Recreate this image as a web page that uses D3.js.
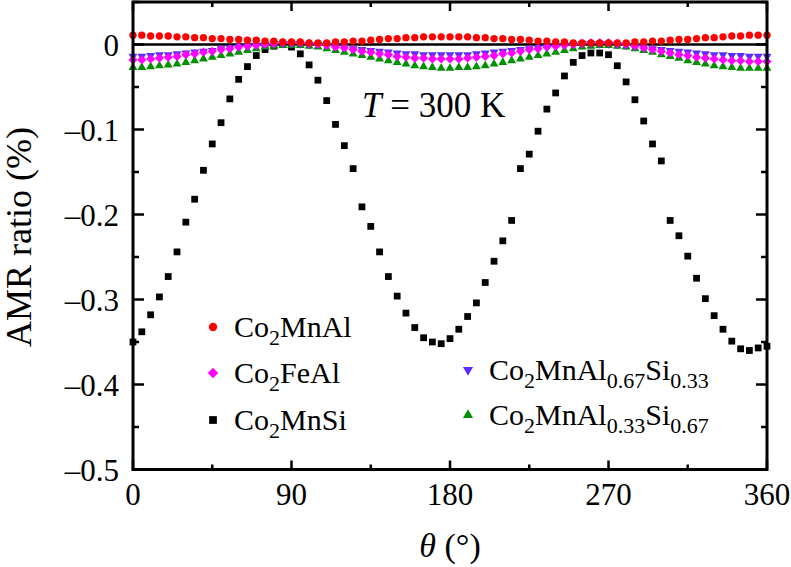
<!DOCTYPE html>
<html>
<head>
<meta charset="utf-8">
<script src="https://cdn.jsdelivr.net/npm/d3@7"></script>
<style>
  body { margin: 0; background: #fff; }
  svg, svg text { font-family: "Liberation Serif", "Times New Roman", Times, serif; }
</style>
</head>
<body>
<svg id="chart" width="791" height="567"></svg>
<script>
// measured every 5 degrees
const angles = d3.range(0, 361, 5)

const co2MnAl = [0.011, 0.011, 0.010, 0.010, 0.010, 0.009, 0.009, 0.008, 0.008, 0.007, 0.007, 0.006, 0.006, 0.005, 0.005, 0.004, 0.004, 0.003, 0.003,
  0.003, 0.002, 0.002, 0.002, 0.003, 0.003, 0.004, 0.004, 0.005, 0.006, 0.007, 0.007, 0.008, 0.008, 0.009, 0.009, 0.009, 0.009,
  0.009, 0.009, 0.008, 0.008, 0.007, 0.007, 0.006, 0.006, 0.005, 0.004, 0.004, 0.003, 0.003, 0.002, 0.002, 0.002, 0.002, 0.002,
  0.002, 0.002, 0.003, 0.003, 0.004, 0.004, 0.005, 0.006, 0.006, 0.007, 0.008, 0.008, 0.009, 0.010, 0.010, 0.011, 0.011, 0.011]

const co2FeAl = [-0.018, -0.018, -0.017, -0.016, -0.015, -0.014, -0.012, -0.011, -0.009, -0.008, -0.006, -0.005, -0.003, -0.002, -0.001, 0.000, 0.001, 0.002, 0.002,
  0.002, 0.001, 0.000, -0.001, -0.003, -0.004, -0.006, -0.008, -0.009, -0.011, -0.012, -0.014, -0.015, -0.016, -0.016, -0.017, -0.017, -0.017,
  -0.017, -0.016, -0.015, -0.014, -0.013, -0.011, -0.010, -0.008, -0.006, -0.005, -0.003, -0.002, -0.001, 0.000, 0.001, 0.002, 0.002, 0.002,
  0.001, 0.000, -0.002, -0.004, -0.006, -0.008, -0.010, -0.012, -0.013, -0.015, -0.016, -0.017, -0.018, -0.019, -0.019, -0.020, -0.020, -0.020]

const co2MnSi = [-0.350, -0.338, -0.318, -0.297, -0.273, -0.244, -0.209, -0.182, -0.148, -0.117, -0.092, -0.064, -0.041, -0.026, -0.013, -0.006, -0.002, 0.000, -0.003,
  -0.011, -0.024, -0.042, -0.066, -0.094, -0.119, -0.146, -0.191, -0.214, -0.244, -0.273, -0.296, -0.316, -0.333, -0.345, -0.350, -0.352, -0.346,
  -0.335, -0.320, -0.304, -0.280, -0.255, -0.231, -0.207, -0.146, -0.129, -0.102, -0.076, -0.057, -0.037, -0.021, -0.013, -0.010, -0.010, -0.012,
  -0.025, -0.044, -0.065, -0.090, -0.117, -0.137, -0.207, -0.225, -0.249, -0.275, -0.299, -0.319, -0.335, -0.349, -0.358, -0.360, -0.357, -0.355]

const co2MnAl67Si33 = [-0.014, -0.014, -0.013, -0.012, -0.012, -0.011, -0.010, -0.009, -0.008, -0.007, -0.005, -0.004, -0.003, -0.002, -0.001, 0.000, 0.001, 0.001, 0.001,
  0.001, 0.000, 0.000, -0.001, -0.002, -0.003, -0.005, -0.006, -0.007, -0.008, -0.009, -0.010, -0.011, -0.011, -0.012, -0.012, -0.012, -0.012,
  -0.012, -0.012, -0.011, -0.010, -0.009, -0.008, -0.007, -0.006, -0.005, -0.004, -0.003, -0.002, -0.001, 0.000, 0.001, 0.001, 0.001, 0.001,
  0.000, -0.001, -0.002, -0.003, -0.005, -0.006, -0.007, -0.008, -0.009, -0.010, -0.011, -0.012, -0.012, -0.013, -0.013, -0.014, -0.014, -0.014]

const co2MnAl33Si67 = [-0.027, -0.027, -0.026, -0.025, -0.024, -0.023, -0.021, -0.019, -0.017, -0.015, -0.013, -0.011, -0.009, -0.007, -0.005, -0.003, -0.002, -0.001, -0.001,
  -0.001, -0.002, -0.003, -0.005, -0.007, -0.009, -0.011, -0.013, -0.015, -0.017, -0.019, -0.021, -0.023, -0.025, -0.026, -0.027, -0.028, -0.028,
  -0.027, -0.027, -0.026, -0.025, -0.023, -0.021, -0.019, -0.017, -0.015, -0.013, -0.011, -0.009, -0.007, -0.005, -0.003, -0.002, -0.001, -0.001,
  -0.002, -0.003, -0.005, -0.007, -0.009, -0.012, -0.014, -0.016, -0.019, -0.021, -0.023, -0.025, -0.026, -0.027, -0.028, -0.028, -0.028, -0.028]

const xTicks = [0, 90, 180, 270, 360]
const xMinor = [45, 135, 225, 315]
const yTicks = [0, -0.1, -0.2, -0.3, -0.4, -0.5]
const yMinor = [0.05, -0.05, -0.15, -0.25, -0.35, -0.45]

// drawing order: black under the coloured ones, red on top
const series = [
  { label: ["Co", "2", "MnSi"], values: co2MnSi, color: "#000", symbol: d3.symbolSquare, size: 46, rotate: 0 },
  { label: ["Co", "2", "MnAl", "0.33", "Si", "0.67"], values: co2MnAl33Si67, color: "#009000", symbol: d3.symbolTriangle, size: 34, rotate: 0 },
  { label: ["Co", "2", "MnAl", "0.67", "Si", "0.33"], values: co2MnAl67Si33, color: "#5a2cff", symbol: d3.symbolTriangle, size: 34, rotate: 180 },
  { label: ["Co", "2", "FeAl"], values: co2FeAl, color: "#ff00ff", symbol: d3.symbolSquare, size: 42, rotate: 45 },
  { label: ["Co", "2", "MnAl"], values: co2MnAl, color: "#ff0000", symbol: d3.symbolCircle, size: 42, rotate: 0 },
]

const font = "Liberation Serif"
const svg = d3.select("#chart")
const plot = { left: 133, right: 767, top: 2, bottom: 469.5 }
const x = d3.scaleLinear().domain([0, 360]).range([plot.left, plot.right])
const y = d3.scaleLinear().domain([-0.5, 0.05]).range([plot.bottom, plot.top])

// ticks, all pointing inward
const tickGroup = svg.append("g").attr("stroke", "#000").attr("stroke-width", 2.5)
const vTick = (t, len) => {
  tickGroup.append("line").attr("x1", x(t)).attr("x2", x(t)).attr("y1", plot.bottom).attr("y2", plot.bottom - len)
  tickGroup.append("line").attr("x1", x(t)).attr("x2", x(t)).attr("y1", plot.top).attr("y2", plot.top + len)
}
const hTick = (t, len) => {
  tickGroup.append("line").attr("x1", plot.left).attr("x2", plot.left + len).attr("y1", y(t)).attr("y2", y(t))
  tickGroup.append("line").attr("x1", plot.right).attr("x2", plot.right - len).attr("y1", y(t)).attr("y2", y(t))
}
xTicks.forEach(t => vTick(t, 9))
xMinor.forEach(t => vTick(t, 5))
yTicks.forEach(t => hTick(t, 11))
yMinor.forEach(t => hTick(t, 6))

// zero line
svg.append("line")
  .attr("x1", plot.left).attr("x2", plot.right).attr("y1", y(0)).attr("y2", y(0))
  .attr("stroke", "#000").attr("stroke-width", 2.5)

// markers
series.forEach(s => {
  const sym = d3.symbol().type(s.symbol).size(s.size)
  svg.append("g").selectAll("path")
    .data(angles.map((a, i) => [a, s.values[i]]))
    .join("path")
    .attr("d", sym)
    .attr("fill", s.color)
    .attr("transform", d => `translate(${x(d[0])},${y(d[1])}) rotate(${s.rotate})`)
})

// frame
svg.append("rect")
  .attr("x", plot.left).attr("y", plot.top)
  .attr("width", plot.right - plot.left).attr("height", plot.bottom - plot.top)
  .attr("fill", "none").attr("stroke", "#000").attr("stroke-width", 3)

// tick labels
svg.append("g").selectAll("text").data(xTicks).join("text")
  .attr("x", d => x(d)).attr("y", 505)
  .attr("text-anchor", "middle").attr("font-family", font).attr("font-size", 31)
  .text(d => d)
svg.append("g").selectAll("text").data(yTicks).join("text")
  .attr("x", 119).attr("y", d => y(d) + 11)
  .attr("text-anchor", "end").attr("font-family", font).attr("font-size", 31)
  .text(d => d === 0 ? "0" : "\u2013" + Math.abs(d).toFixed(1))

// axis titles
const xt = svg.append("text").attr("x", 450).attr("y", 557).attr("text-anchor", "middle")
  .attr("font-family", font).attr("font-size", 34)
xt.append("tspan").attr("font-style", "italic").text("\u03b8")
xt.append("tspan").text(" (\u00b0)")
svg.append("text")
  .attr("transform", "translate(31,237) rotate(-90)")
  .attr("text-anchor", "middle").attr("font-family", font).attr("font-size", 36)
  .text("AMR ratio (%)")

// temperature note
const tn = svg.append("text").attr("x", 362).attr("y", 117).attr("font-family", font).attr("font-size", 35)
tn.append("tspan").attr("font-style", "italic").text("T")
tn.append("tspan").text(" = 300 K")

// legend
const legendPos = [
  { s: 4, x: 213, y: 327 },
  { s: 3, x: 213, y: 373 },
  { s: 0, x: 213, y: 420 },
  { s: 2, x: 468, y: 370 },
  { s: 1, x: 468, y: 415 },
]
legendPos.forEach(p => {
  const s = series[p.s]
  svg.append("path")
    .attr("d", d3.symbol().type(s.symbol).size(s.size * 1.3))
    .attr("fill", s.color)
    .attr("transform", `translate(${p.x},${p.y}) rotate(${s.rotate})`)
  const t = svg.append("text").attr("x", p.x + 21).attr("y", p.y + 10)
    .attr("font-family", font).attr("font-size", 30)
  s.label.forEach((part, i) => {
    const sub = i % 2 === 1
    t.append("tspan")
      .attr("dy", i === 0 ? 0 : (sub ? 8 : -8))
      .attr("font-size", sub ? 22 : 30)
      .text(part)
  })
})
</script>
</body>
</html>
